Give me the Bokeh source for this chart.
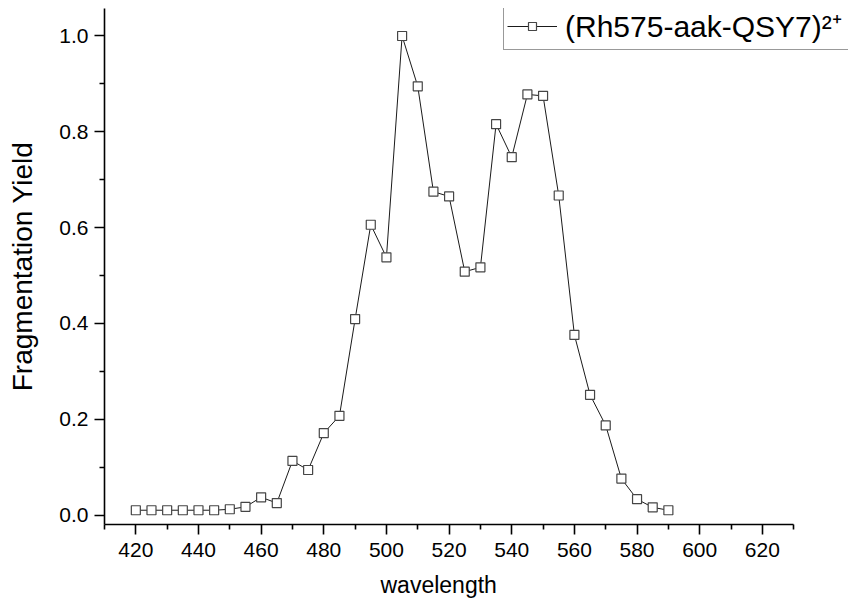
from bokeh.plotting import figure
from bokeh.models import FixedTicker, Legend, LegendItem, PrintfTickFormatter, Range1d, Title
from bokeh.embed import file_html
from bokeh.resources import INLINE

wavelength = [420, 425, 430, 435, 440, 445, 450, 455, 460, 465, 470, 475, 480, 485,
              490, 495, 500, 505, 510, 515, 520, 525, 530, 535, 540, 545, 550, 555,
              560, 565, 570, 575, 580, 585, 590]
yield_vals = [0.010, 0.010, 0.010, 0.010, 0.010, 0.010, 0.012, 0.017, 0.037, 0.025,
              0.113, 0.094, 0.171, 0.207, 0.409, 0.606, 0.538, 1.000, 0.895, 0.675,
              0.665, 0.508, 0.517, 0.816, 0.747, 0.878, 0.875, 0.667, 0.376, 0.251,
              0.187, 0.076, 0.033, 0.016, 0.010]
series_name = "(Rh575-aak-QSY7)\u00b2\u207a"
x_label = "wavelength"
y_label = "Fragmentation Yield"
x_major = [420, 440, 460, 480, 500, 520, 540, 560, 580, 600, 620]
x_minor = [410, 430, 450, 470, 490, 510, 530, 550, 570, 590, 610, 630]
y_major = [0.0, 0.2, 0.4, 0.6, 0.8, 1.0]
y_minor = [0.1, 0.3, 0.5, 0.7, 0.9]

FONT = "Liberation Sans"

# frame spans the full width to the right so the legend is not clipped;
# the x axis line itself is limited to 410..630 through axis bounds
p = figure(width=848, height=607, output_backend="svg", toolbar_location=None,
           x_range=Range1d(410, 647.5), y_range=Range1d(-0.0198, 1.0574),
           min_border_left=104, min_border_right=0, min_border_top=8, min_border_bottom=83,
           y_axis_label=y_label)
p.outline_line_color = None
p.xgrid.visible = False
p.ygrid.visible = False
p.background_fill_color = "white"
p.border_fill_color = "white"

p.xaxis.ticker = FixedTicker(ticks=x_major, minor_ticks=x_minor)
p.yaxis.ticker = FixedTicker(ticks=y_major, minor_ticks=y_minor)
p.yaxis.formatter = PrintfTickFormatter(format="%.1f")
p.xaxis.bounds = (410, 630)

for ax in (p.xaxis[0], p.yaxis[0]):
    ax.axis_line_width = 1.6
    ax.axis_line_color = "black"
    ax.major_tick_line_width = 1.6
    ax.minor_tick_line_width = 1.6
    ax.major_tick_line_color = "black"
    ax.minor_tick_line_color = "black"
    ax.major_tick_out = 10
    ax.major_tick_in = 0
    ax.minor_tick_out = 5
    ax.minor_tick_in = 0
    ax.major_label_text_font = FONT
    ax.major_label_text_font_size = "21px"
    ax.major_label_text_color = "black"
    ax.axis_label_text_font = FONT
    ax.axis_label_text_font_style = "normal"
    ax.axis_label_text_color = "black"
p.yaxis.axis_label_text_font_size = "28px"
p.xaxis.major_label_standoff = 8
p.yaxis.major_label_standoff = 6
p.yaxis.axis_label_standoff = 18

# x-axis title centred under the drawn axis (410..630) rather than the wider frame
xt = Title(text=x_label, align="left", offset=276, text_font=FONT,
           text_font_size="23px", text_font_style="normal", text_color="black",
           standoff=20)
p.add_layout(xt, "below")

ln = p.line(wavelength, yield_vals, line_color="#1a1a1a", line_width=1)
sc = p.scatter(wavelength, yield_vals, marker="square", size=9, fill_color="white",
               line_color="#454545", line_width=1.2)

legend = Legend(items=[LegendItem(label=series_name, renderers=[ln, sc])],
                location=(399, 474))
legend.label_text_font = FONT
legend.label_text_font_size = "30px"
legend.label_text_color = "black"
legend.border_line_color = "#333333"
legend.border_line_width = 1.2
legend.background_fill_color = "white"
legend.background_fill_alpha = 1
legend.glyph_width = 50
legend.glyph_height = 20
legend.padding = 3
legend.label_standoff = 8
legend.label_width = 290
legend.margin = 0
p.add_layout(legend, "center")

open("out.html", "w").write(file_html(p, INLINE))
